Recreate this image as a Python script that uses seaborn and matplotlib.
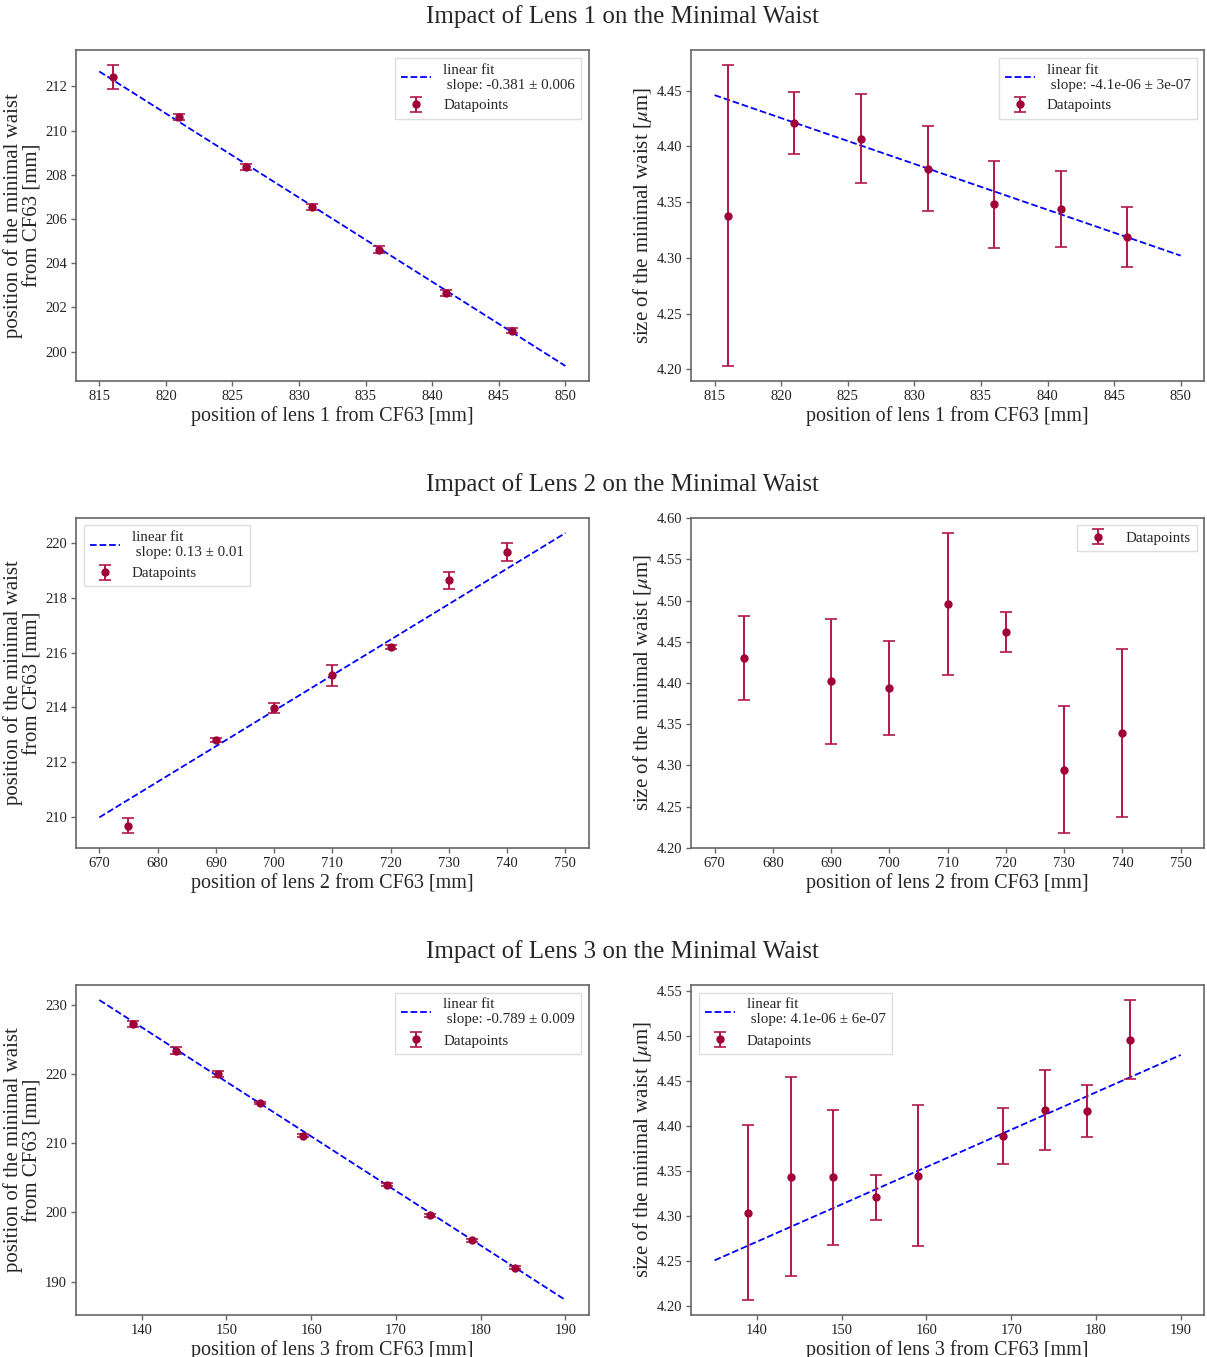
import matplotlib
matplotlib.use('Agg')
import matplotlib.pyplot as plt
import pandas as pd
import seaborn as sns

# ---- data ------------------------------------------------------------------
lens1_pos = [816, 821, 826, 831, 836, 841, 846]
lens1_waist_pos = [212.42, 210.62, 208.35, 206.55, 204.62, 202.65, 200.95]
lens1_waist_pos_err = [0.55, 0.15, 0.15, 0.15, 0.15, 0.15, 0.10]
lens1_waist_size = [4.338, 4.421, 4.407, 4.380, 4.348, 4.344, 4.319]
lens1_waist_size_err = [0.135, 0.028, 0.040, 0.038, 0.039, 0.034, 0.027]
lens1_fit_x = [815, 850]
lens1_fit_pos = [212.68, 199.35]
lens1_fit_size = [4.446, 4.302]

lens2_pos = [675, 690, 700, 710, 720, 730, 740]
lens2_waist_pos = [209.68, 212.80, 213.98, 215.17, 216.22, 218.65, 219.70]
lens2_waist_pos_err = [0.27, 0.08, 0.18, 0.37, 0.08, 0.30, 0.33]
lens2_waist_size = [4.430, 4.402, 4.394, 4.496, 4.462, 4.295, 4.339]
lens2_waist_size_err = [0.051, 0.076, 0.057, 0.086, 0.024, 0.077, 0.102]
lens2_fit_x = [670, 750]
lens2_fit_pos = [209.98, 220.38]

lens3_pos = [139, 144, 149, 154, 159, 169, 174, 179, 184]
lens3_waist_pos = [227.2, 223.4, 220.0, 215.8, 211.1, 204.0, 199.6, 196.0, 192.0]
lens3_waist_pos_err = [0.4, 0.5, 0.4, 0.2, 0.25, 0.2, 0.2, 0.2, 0.2]
lens3_waist_size = [4.304, 4.344, 4.343, 4.321, 4.345, 4.389, 4.418, 4.417, 4.496]
lens3_waist_size_err = [0.097, 0.110, 0.075, 0.025, 0.078, 0.031, 0.044, 0.029, 0.044]
lens3_fit_x = [135, 190]
lens3_fit_pos = [230.70, 187.35]
lens3_fit_size = [4.251, 4.479]

slope_labels = {
    (1, 'pos'): '-0.381 ± 0.006',
    (1, 'size'): '-4.1e-06 ± 3e-07',
    (2, 'pos'): '0.13 ± 0.01',
    (3, 'pos'): '-0.789 ± 0.009',
    (3, 'size'): '4.1e-06 ± 6e-07',
}

# ---- style -----------------------------------------------------------------
sns.set_theme(style='ticks')
plt.rcParams['font.family'] = ['Liberation Serif', 'DejaVu Serif']
plt.rcParams['mathtext.fontset'] = 'stix'
plt.rcParams['axes.edgecolor'] = '#666666'
plt.rcParams['axes.linewidth'] = 1.2
plt.rcParams['xtick.color'] = '#666666'
plt.rcParams['ytick.color'] = '#666666'
plt.rcParams['xtick.labelcolor'] = '#222222'
plt.rcParams['ytick.labelcolor'] = '#222222'
plt.rcParams['xtick.labelsize'] = 10.5
plt.rcParams['ytick.labelsize'] = 10.5
plt.rcParams['xtick.major.size'] = 3.5
plt.rcParams['ytick.major.size'] = 3.5
plt.rcParams['xtick.major.width'] = 1.0
plt.rcParams['ytick.major.width'] = 1.0
plt.rcParams['xtick.major.pad'] = 3
plt.rcParams['ytick.major.pad'] = 3
plt.rcParams['axes.labelpad'] = 2

POINT_COLOR = '#a0003a'
ERR_COLOR = '#b3164b'
FIT_COLOR = 'blue'


def draw_panel(ax, x, y, yerr, fit_x=None, fit_y=None, slope=None, loc='upper right'):
    if fit_x is not None:
        fit = pd.DataFrame({'x': fit_x, 'y': fit_y})
        sns.lineplot(data=fit, x='x', y='y', ax=ax, color=FIT_COLOR,
                     linestyle='--', linewidth=1.3,
                     label='linear fit\n slope: ' + slope)
    ax.errorbar(x, y, yerr=yerr, fmt='o', color=POINT_COLOR, ecolor=ERR_COLOR,
                markersize=5, elinewidth=1.4, capsize=4, capthick=1.2,
                label='Datapoints')
    leg = ax.legend(loc=loc, fontsize=10.8, fancybox=False, framealpha=1)
    leg.get_frame().set_edgecolor('#dddddd')
    ax.set_xlabel('')
    ax.set_ylabel('')


rows = [
    dict(n=1, x=lens1_pos,
         pos=lens1_waist_pos, pos_err=lens1_waist_pos_err,
         size=lens1_waist_size, size_err=lens1_waist_size_err,
         fit_x=lens1_fit_x, fit_pos=lens1_fit_pos, fit_size=lens1_fit_size,
         loc_pos='upper right', loc_size='upper right'),
    dict(n=2, x=lens2_pos,
         pos=lens2_waist_pos, pos_err=lens2_waist_pos_err,
         size=lens2_waist_size, size_err=lens2_waist_size_err,
         fit_x=lens2_fit_x, fit_pos=lens2_fit_pos, fit_size=None,
         loc_pos='upper left', loc_size='upper right'),
    dict(n=3, x=lens3_pos,
         pos=lens3_waist_pos, pos_err=lens3_waist_pos_err,
         size=lens3_waist_size, size_err=lens3_waist_size_err,
         fit_x=lens3_fit_x, fit_pos=lens3_fit_pos, fit_size=lens3_fit_size,
         loc_pos='upper right', loc_size='upper left'),
]

# subfigure heights in pixels (figure is 1357 px high)
heights = [451, 467, 439]
layout = [
    dict(title_y=1 - 17 / 451, top=1 - 50 / 451, bottom=1 - 381 / 451),
    dict(title_y=1 - 34 / 467, top=1 - 67 / 467, bottom=1 - 397 / 467),
    dict(title_y=1 - 34 / 439, top=1 - 67 / 439, bottom=1 - 397 / 439),
]

fig = plt.figure(figsize=(12.07, 13.57), dpi=100)
subfigs = fig.subfigures(3, 1, height_ratios=heights)

for subfig, row, lay in zip(subfigs, rows, layout):
    subfig.suptitle(f'Impact of Lens {row["n"]} on the Minimal Waist',
                    fontsize=18, x=622 / 1207, y=lay['title_y'], va='center')
    axes = subfig.subplots(1, 2, sharex=True, gridspec_kw=dict(
        left=76 / 1207, right=1204 / 1207, top=lay['top'],
        bottom=lay['bottom'], wspace=0.2))

    draw_panel(axes[0], row['x'], row['pos'], row['pos_err'],
               row['fit_x'], row['fit_pos'], slope_labels[(row['n'], 'pos')],
               loc=row['loc_pos'])
    if row['fit_size'] is not None:
        draw_panel(axes[1], row['x'], row['size'], row['size_err'],
                   row['fit_x'], row['fit_size'], slope_labels[(row['n'], 'size')],
                   loc=row['loc_size'])
    else:
        draw_panel(axes[1], row['x'], row['size'], row['size_err'],
                   loc=row['loc_size'])

    for ax in axes:
        ax.set_xlabel(f'position of lens {row["n"]} from CF63 [mm]', fontsize=14.5)
        ax.tick_params(axis='x', labelbottom=True)
    axes[0].set_ylabel('position of the minimal waist\nfrom CF63 [mm]',
                       fontsize=15, linespacing=1.0)
    axes[1].set_ylabel(r'size of the minimal waist [$\mu$m]', fontsize=15)

fig.savefig('out.png', dpi=100)
